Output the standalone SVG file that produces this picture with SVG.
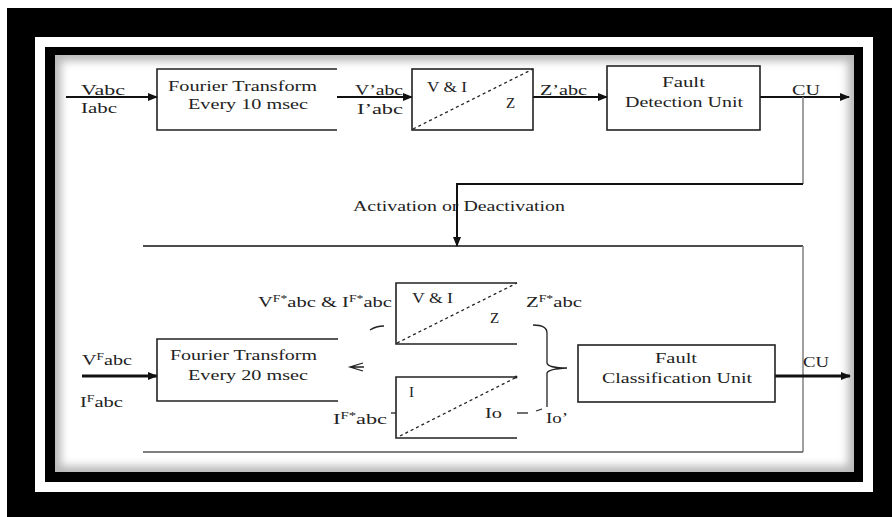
<svg xmlns="http://www.w3.org/2000/svg" width="892" height="517" viewBox="0 0 892 517">
<style>
text{font-family:"Liberation Serif","Times New Roman",serif;font-size:15px;fill:#222}
.box{fill:none;stroke:#222;stroke-width:1.6}
.ln{fill:none;stroke:#111;stroke-width:2}
.thick{fill:none;stroke:#111;stroke-width:3}
.grey{fill:none;stroke:#888;stroke-width:1.6}
.dash{fill:none;stroke:#222;stroke-width:1.3;stroke-dasharray:3,3}
.thin{fill:none;stroke:#222;stroke-width:1.3}
</style>
<defs>
<marker id="ah" markerUnits="userSpaceOnUse" markerWidth="10" markerHeight="8" refX="9" refY="4" orient="auto"><path d="M0,0 L10,4 L0,8 z" fill="#111"/></marker>
<clipPath id="pc"><rect x="55" y="55" width="799" height="417"/></clipPath>
<filter id="bl" x="-5%" y="-5%" width="110%" height="110%"><feGaussianBlur stdDeviation="4"/></filter>
</defs>
<g id="frame">
<rect x="7" y="8" width="885" height="509" fill="#000"/>
<rect x="35" y="37" width="838" height="455" fill="#fff"/>
<rect x="45" y="47" width="818" height="435" fill="#000"/>
<rect x="55" y="55" width="799" height="417" fill="#b8b8b8"/>
<g clip-path="url(#pc)"><rect x="61" y="61" width="787" height="405" fill="#fff" filter="url(#bl)"/></g>
</g>
<g id="connectors">
<line class="ln" x1="66" y1="97" x2="157" y2="97" marker-end="url(#ah)"/>
<line class="ln" x1="337" y1="97" x2="412" y2="97" marker-end="url(#ah)"/>
<line class="ln" x1="533" y1="97" x2="607" y2="97" marker-end="url(#ah)"/>
<line class="ln" x1="760" y1="97" x2="849" y2="97" marker-end="url(#ah)"/>
<line class="grey" x1="803" y1="97" x2="803" y2="184"/>
<polyline class="ln" points="803,184 457,184 457,246" marker-end="url(#ah)"/>
<line class="ln" x1="143" y1="246" x2="803" y2="246" style="stroke-width:1.6"/>
<line class="grey" x1="803" y1="246" x2="803" y2="452"/>
<line x1="143" y1="452" x2="803" y2="452" style="stroke:#555;stroke-width:1.6"/>
<line class="thick" x1="82" y1="376" x2="157" y2="376" marker-end="url(#ah)"/>
<line class="thick" x1="775" y1="376" x2="850" y2="376" marker-end="url(#ah)"/>
<path class="thin" d="M363,363 L350,367 L363,371 M351,367 H364"/>
<path class="thin" d="M370,330 Q376,326 384,326"/>
<line class="thin" x1="391" y1="413" x2="396" y2="413"/>
<line class="thin" x1="517" y1="413" x2="528" y2="413"/>
<line class="thin" x1="536" y1="411" x2="542" y2="409"/>
<path class="thin" d="M533,325 Q547,325 547,333 V363 Q548,368 567,368 Q548,369 547,373 V407"/>
</g>
<g id="ft10">
<path class="box" d="M337,69 H157 V130 H337"/>
<text x="168" y="91" textLength="149" lengthAdjust="spacingAndGlyphs">Fourier Transform</text>
<text x="188" y="109" textLength="120" lengthAdjust="spacingAndGlyphs">Every 10 msec</text>
</g>
<g id="vi1">
<rect class="box" x="412" y="69" width="121" height="61"/>
<line class="dash" x1="413" y1="129" x2="533" y2="69"/>
<text x="427" y="92" textLength="40" lengthAdjust="spacingAndGlyphs">V &amp; I</text>
<text x="506" y="108">Z</text>
</g>
<g id="fdu">
<rect class="box" x="607" y="66" width="153" height="64"/>
<text x="662" y="87" textLength="43" lengthAdjust="spacingAndGlyphs">Fault</text>
<text x="625" y="107" textLength="118" lengthAdjust="spacingAndGlyphs">Detection Unit</text>
</g>
<g id="labels-top">
<text x="81" y="95" textLength="44" lengthAdjust="spacingAndGlyphs">Vabc</text>
<text x="81" y="113" textLength="36" lengthAdjust="spacingAndGlyphs">Iabc</text>
<text x="355" y="95" textLength="48" lengthAdjust="spacingAndGlyphs">V’abc</text>
<text x="357" y="114" textLength="46" lengthAdjust="spacingAndGlyphs">I’abc</text>
<text x="540" y="95" textLength="47" lengthAdjust="spacingAndGlyphs">Z’abc</text>
<text x="792" y="95" textLength="28" lengthAdjust="spacingAndGlyphs">CU</text>
<text x="353" y="211" textLength="212" lengthAdjust="spacingAndGlyphs">Activation or Deactivation</text>
</g>
<g id="ft20">
<path class="box" d="M338,339 H157 V401 H338"/>
<text x="170" y="360" textLength="147" lengthAdjust="spacingAndGlyphs">Fourier Transform</text>
<text x="188" y="380" textLength="120" lengthAdjust="spacingAndGlyphs">Every 20 msec</text>
</g>
<g id="vi2">
<path class="box" d="M517,283 H396 V344 H517"/>
<line class="dash" x1="397" y1="343" x2="517" y2="283"/>
<text x="412" y="303" textLength="41" lengthAdjust="spacingAndGlyphs">V &amp; I</text>
<text x="490" y="323">Z</text>
</g>
<g id="i2">
<path class="box" d="M517,377 H396 V438 H517"/>
<line class="dash" x1="400" y1="436" x2="517" y2="377"/>
<circle cx="516" cy="377" r="1.5" fill="#222"/>
<text x="409" y="397">I</text>
<text x="485" y="418" textLength="17" lengthAdjust="spacingAndGlyphs">Io</text>
</g>
<g id="fcu">
<rect class="box" x="578" y="345" width="197" height="57"/>
<text x="655" y="363" textLength="42" lengthAdjust="spacingAndGlyphs">Fault</text>
<text x="602" y="383" textLength="150" lengthAdjust="spacingAndGlyphs">Classification Unit</text>
</g>
<g id="labels-bottom">
<text x="82" y="365" textLength="50" lengthAdjust="spacingAndGlyphs">V<tspan font-size="10" dy="-5">F</tspan><tspan dy="5">abc</tspan></text>
<text x="80" y="407" textLength="43" lengthAdjust="spacingAndGlyphs">I<tspan font-size="10" dy="-5">F</tspan><tspan dy="5">abc</tspan></text>
<text x="258" y="307" textLength="134" lengthAdjust="spacingAndGlyphs">V<tspan font-size="10" dy="-5">F*</tspan><tspan dy="5">abc &amp; I</tspan><tspan font-size="10" dy="-5">F*</tspan><tspan dy="5">abc</tspan></text>
<text x="526" y="307" textLength="56" lengthAdjust="spacingAndGlyphs">Z<tspan font-size="10" dy="-5">F*</tspan><tspan dy="5">abc</tspan></text>
<text x="333" y="424" textLength="54" lengthAdjust="spacingAndGlyphs">I<tspan font-size="10" dy="-5">F*</tspan><tspan dy="5">abc</tspan></text>
<text x="546" y="423" textLength="22" lengthAdjust="spacingAndGlyphs">Io’</text>
<text x="803" y="367" textLength="26" lengthAdjust="spacingAndGlyphs">CU</text>
</g>
</svg>
